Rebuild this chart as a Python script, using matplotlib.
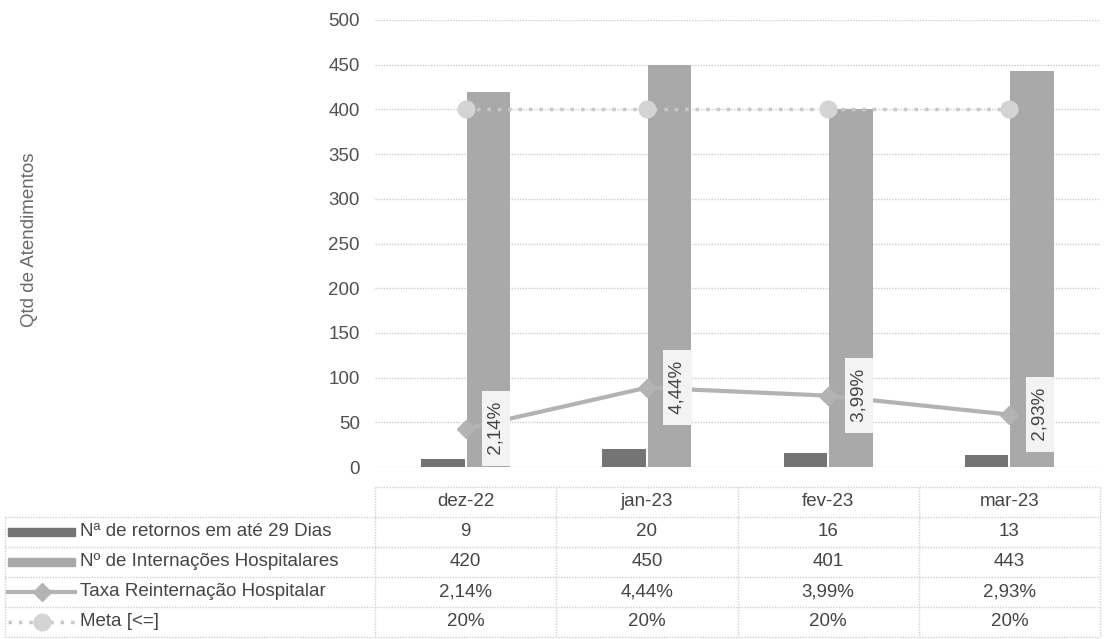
import matplotlib
matplotlib.use("Agg")
import matplotlib.pyplot as plt
import numpy as np
from matplotlib.patches import Rectangle
from matplotlib.lines import Line2D

plt.rcParams['font.family'] = ['Liberation Sans', 'DejaVu Sans']

# data
meses = ['dez-22', 'jan-23', 'fev-23', 'mar-23']
retornos = [9, 20, 16, 13]
internacoes = [420, 450, 401, 443]
taxa = [2.14, 4.44, 3.99, 2.93]       # %
meta = [20, 20, 20, 20]               # %
series_nomes = ['Nª de retornos em até 29 Dias', 'Nº de Internações Hospitalares',
                'Taxa Reinternação Hospitalar', 'Meta [<=]']
yticks = [0, 50, 100, 150, 200, 250, 300, 350, 400, 450, 500]


def pct(v):
    return ('%.2f%%' % v).replace('.', ',')


def pct0(v):
    return '%d%%' % v


W, H = 1107, 639
FS = 13.5
c_ret = '#747474'
c_int = '#a9a9a9'
c_tax = '#b3b3b3'
c_meta = '#c8c8c8'
c_txt = '#454545'
c_grid = '#cdcdcd'

fig = plt.figure(figsize=(W / 100, H / 100), dpi=100)

# table layer (pixel coordinates)
tax = fig.add_axes([0, 0, 1, 1])
tax.set_xlim(0, W)
tax.set_ylim(H, 0)
tax.axis('off')

# main chart
left, right, y0, y500 = 375, 1100, 467, 20
ax = fig.add_axes([left / W, (H - y0) / H, (right - left) / W, (y0 - y500) / H])
x = np.arange(len(meses))
ax.bar(x - 0.125, retornos, 0.24, color=c_ret, zorder=2)
ax.bar(x + 0.125, internacoes, 0.24, color=c_int, zorder=2)
ax.set_xlim(-0.5, len(meses) - 0.5)
ax.set_ylim(0, 500)
ax.set_yticks(yticks)
ax.set_xticks([])
ax.yaxis.grid(True, color=c_grid, linestyle=(0, (1, 1)), lw=1)
ax.set_axisbelow(True)
for s in ax.spines.values():
    s.set_visible(False)
ax.tick_params(axis='y', length=0, pad=11, labelsize=FS, labelcolor='#505050')
ax.patch.set_alpha(0)

fig.text(30 / W, 1 - 240 / H, 'Qtd de Atendimentos', rotation=90, ha='center',
         va='center', fontsize=FS, color='#6a6a6a')

# rates on hidden secondary scale
ax2 = ax.twinx()
ax2.set_ylim(0, 25)
ax2.axis('off')
ax2.plot(x, meta, color=c_meta, lw=2.5, linestyle=(0, (1, 2)), marker='o', ms=12,
         mfc='#d4d4d4', mec='#d4d4d4', zorder=3)
ax2.plot(x, taxa, color=c_tax, lw=3, marker='D', ms=9, zorder=4)
for xi, v in zip(x, taxa):
    ax2.annotate(' ' + pct(v) + ' ', (xi, v), xytext=(22, 0), textcoords='offset points',
                 rotation=90, ha='center', va='center', fontsize=FS, color=c_txt,
                 bbox=dict(boxstyle='square,pad=0.3', fc='#f3f3f3', ec='none'),
                 zorder=5)

# data table
col_w = (right - left) / len(meses)
cols = [left + i * col_w for i in range(len(meses) + 1)]
top_h, row_h = 487, 30
rows_top = [517 + i * row_h for i in range(5)]
lk = dict(color='#d0d0d0', lw=1, linestyle=(0, (1, 1)))

tax.plot([left, right], [top_h, top_h], **lk)
for yy in rows_top:
    tax.plot([5, right], [yy, yy], **lk)
tax.plot([5, 5], [rows_top[0], rows_top[-1]], **lk)
for xx in cols:
    tax.plot([xx, xx], [top_h, rows_top[-1]], **lk)

for i, m in enumerate(meses):
    cx = cols[i] + col_w / 2
    tax.text(cx, (top_h + rows_top[0]) / 2, m, ha='center', va='center',
             fontsize=FS, color=c_txt)
    valores = [str(retornos[i]), str(internacoes[i]), pct(taxa[i]), pct0(meta[i])]
    for r, val in enumerate(valores):
        tax.text(cx, rows_top[r] + row_h / 2, val, ha='center', va='center',
                 fontsize=FS, color=c_txt)

for r, nome in enumerate(series_nomes):
    cy = rows_top[r] + row_h / 2
    tax.text(80, cy, nome, ha='left', va='center', fontsize=FS, color=c_txt)

k0, k1 = 8, 75
cy = [rows_top[r] + row_h / 2 for r in range(4)]
tax.add_patch(Rectangle((k0, cy[0] - 4), k1 - k0, 8, color=c_ret))
tax.add_patch(Rectangle((k0, cy[1] - 4), k1 - k0, 8, color=c_int))
tax.add_line(Line2D([k0, k1], [cy[2], cy[2]], color=c_tax, lw=3))
tax.plot([(k0 + k1) / 2], [cy[2]], marker='D', ms=9, color=c_tax)
tax.add_line(Line2D([k0, k1], [cy[3], cy[3]], color=c_meta, lw=2.5,
                    linestyle=(0, (1, 2))))
tax.plot([(k0 + k1) / 2], [cy[3]], marker='o', ms=12, color='#d4d4d4')

fig.savefig('out.png', dpi=100, facecolor='white')
